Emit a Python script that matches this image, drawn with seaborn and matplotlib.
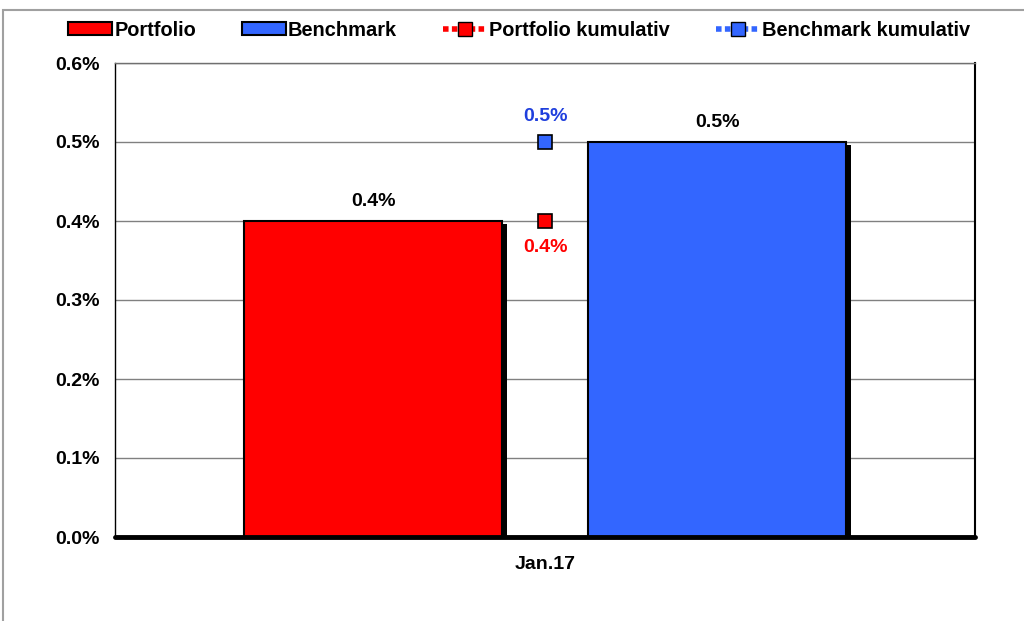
import matplotlib
matplotlib.use("Agg")
import matplotlib.pyplot as plt
import matplotlib.patheffects as pe
from matplotlib.patches import Patch, Rectangle
from matplotlib.lines import Line2D
from matplotlib.ticker import FuncFormatter
import pandas as pd
import seaborn as sns

# --- Data ---
months = ["Jan.17"]
series = ["Portfolio", "Benchmark"]
monthly_values = [0.4, 0.5]
portfolio_cum = [0.4]
benchmark_cum = [0.5]

red = "#FF0000"
blue = "#3366FF"
blue_text = "#1F3FDD"

sns.set_theme(style="white")
plt.rcParams["font.family"] = ["Liberation Sans", "DejaVu Sans"]
plt.rcParams["font.weight"] = "bold"
plt.rcParams["text.color"] = "black"
plt.rcParams["xtick.color"] = "black"
plt.rcParams["ytick.color"] = "black"

df = pd.DataFrame({
    "Monat": months * len(series),
    "Serie": series,
    "Wert": monthly_values,
})

fig = plt.figure(figsize=(10.24, 6.21), dpi=100)
ax = fig.add_axes([115 / 1024, 1 - 537 / 621, 860 / 1024, 474 / 621])

sns.barplot(data=df, x="Monat", y="Wert", hue="Serie", palette=[red, blue],
            saturation=1, width=0.8, gap=0.25, edgecolor="black", linewidth=1.5,
            legend=False, ax=ax, zorder=3)
for bar in ax.patches:
    bar.set_path_effects([pe.SimplePatchShadow(offset=(3.5, -2), shadow_rgbFace="black", alpha=1.0),
                          pe.Normal()])

# --- cumulative markers ---
ax.plot([0], portfolio_cum, linestyle=":", color=red, marker="s", markersize=10,
        markerfacecolor=red, markeredgecolor="black", markeredgewidth=1.2, zorder=5)
ax.plot([0], benchmark_cum, linestyle=":", color=blue, marker="s", markersize=10,
        markerfacecolor=blue, markeredgecolor="black", markeredgewidth=1.2, zorder=5)

# --- labels ---
lab_fs = 14
for bar, val in zip(ax.patches, monthly_values):
    ax.annotate(f"{val:.1f}%", (bar.get_x() + bar.get_width() / 2, val),
                xytext=(0, 8), textcoords="offset points", ha="center", va="bottom",
                fontsize=lab_fs, fontweight="bold", color="black")
ax.annotate(f"{benchmark_cum[0]:.1f}%", (0, benchmark_cum[0]), xytext=(0, 12),
            textcoords="offset points", ha="center", va="bottom",
            fontsize=lab_fs, fontweight="bold", color=blue_text)
ax.annotate(f"{portfolio_cum[0]:.1f}%", (0, portfolio_cum[0]), xytext=(0, -13),
            textcoords="offset points", ha="center", va="top",
            fontsize=lab_fs, fontweight="bold", color=red)

# --- axes ---
ax.set_xlim(-0.5, 0.5)
ax.set_ylim(0, 0.6)
ax.set_yticks([0, 0.1, 0.2, 0.3, 0.4, 0.5, 0.6])
ax.yaxis.set_major_formatter(FuncFormatter(lambda v, p: f"{v:.1f}%"))
ax.set_xticks([0])
ax.set_xticklabels(months)
ax.set_xticks([-0.5, 0.5], minor=True)
ax.tick_params(axis="x", which="major", length=0, pad=14, labelsize=lab_fs)
ax.tick_params(axis="x", which="minor", length=7, width=1, color="black", direction="out")
ax.tick_params(axis="y", length=5, width=1, color="#808080", direction="out",
               labelsize=lab_fs, pad=6)
for lbl in ax.get_xticklabels() + ax.get_yticklabels():
    lbl.set_fontweight("bold")
ax.set_xlabel("")
ax.set_ylabel("")
ax.yaxis.grid(True, color="#808080", linewidth=1)
ax.set_axisbelow(True)
ax.axhline(0, color="black", linewidth=3.5, zorder=4, clip_on=False)

ax.spines["top"].set_color("#707070")
ax.spines["top"].set_linewidth(1)
ax.spines["right"].set_color("black")
ax.spines["right"].set_linewidth(1.5)
ax.spines["left"].set_color("black")
ax.spines["left"].set_linewidth(1)
ax.spines["bottom"].set_visible(False)

# --- legend ---
handles = [
    Patch(facecolor=red, edgecolor="black", linewidth=1.5),
    Patch(facecolor=blue, edgecolor="black", linewidth=1.5),
    Line2D([0], [0], color=red, linestyle=(0, (1, 0.6)), linewidth=4, marker="s", markersize=10,
           markerfacecolor=red, markeredgecolor="black"),
    Line2D([0], [0], color=blue, linestyle=(0, (1, 0.6)), linewidth=4, marker="s", markersize=10,
           markerfacecolor=blue, markeredgecolor="black"),
]
leg = fig.legend(handles, ["Portfolio", "Benchmark", "Portfolio kumulativ", "Benchmark kumulativ"],
                 loc="center", bbox_to_anchor=(0.507, 1 - 30 / 621), ncol=4, frameon=False,
                 prop={"size": 14.4, "weight": "bold"}, handlelength=2.2, handleheight=0.6,
                 handletextpad=0.1, columnspacing=2.3)

# outer frame
fig.patches.append(Rectangle((3 / 1024, -0.01), 1.1, 1 - 4 / 621, transform=fig.transFigure,
                             fill=False, edgecolor="#A0A0A0", linewidth=1.5))

fig.savefig("out.png", dpi=100)
